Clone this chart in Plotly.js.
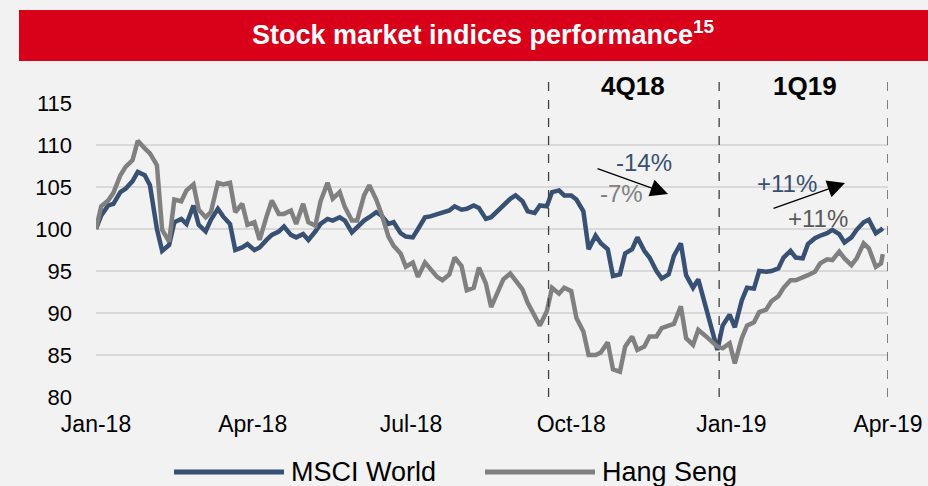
<!DOCTYPE html>
<html>
<head>
<meta charset="utf-8">
<script src="https://cdn.plot.ly/plotly-3.0.1.min.js"></script>
<style>
  html, body { margin: 0; padding: 0; background: #F2F2F2; }
  #chart { width: 928px; height: 486px; }
</style>
</head>
<body>
<div id="chart"></div>
<script>
// ---- Data ----
const dates = [
  '2018-01-01','2018-01-04','2018-01-08','2018-01-11','2018-01-15','2018-01-18','2018-01-22','2018-01-25','2018-01-29',
  '2018-02-01','2018-02-05','2018-02-08','2018-02-12','2018-02-15','2018-02-19','2018-02-22','2018-02-26',
  '2018-03-01','2018-03-05','2018-03-08','2018-03-12','2018-03-15','2018-03-19','2018-03-22','2018-03-26','2018-03-29',
  '2018-04-02','2018-04-05','2018-04-09','2018-04-12','2018-04-16','2018-04-19','2018-04-23','2018-04-26','2018-04-30',
  '2018-05-03','2018-05-07','2018-05-10','2018-05-14','2018-05-17','2018-05-21','2018-05-24','2018-05-28','2018-05-31',
  '2018-06-04','2018-06-07','2018-06-11','2018-06-14','2018-06-18','2018-06-21','2018-06-25','2018-06-28',
  '2018-07-02','2018-07-05','2018-07-09','2018-07-12','2018-07-16','2018-07-19','2018-07-23','2018-07-26','2018-07-30',
  '2018-08-02','2018-08-06','2018-08-09','2018-08-13','2018-08-16','2018-08-20','2018-08-23','2018-08-27','2018-08-30',
  '2018-09-03','2018-09-06','2018-09-10','2018-09-13','2018-09-17','2018-09-20','2018-09-24','2018-09-27',
  '2018-10-01','2018-10-04','2018-10-08','2018-10-11','2018-10-15','2018-10-18','2018-10-22','2018-10-25','2018-10-29',
  '2018-11-01','2018-11-05','2018-11-08','2018-11-12','2018-11-15','2018-11-19','2018-11-22','2018-11-26','2018-11-29',
  '2018-12-03','2018-12-06','2018-12-10','2018-12-13','2018-12-17','2018-12-20','2018-12-24','2018-12-27','2018-12-31',
  '2019-01-03','2019-01-07','2019-01-10','2019-01-14','2019-01-17','2019-01-21','2019-01-24','2019-01-28','2019-01-31',
  '2019-02-04','2019-02-07','2019-02-11','2019-02-14','2019-02-18','2019-02-21','2019-02-25','2019-02-28',
  '2019-03-04','2019-03-07','2019-03-11','2019-03-14','2019-03-18','2019-03-21','2019-03-25','2019-03-28','2019-03-29'
];

const msciWorld = [
  100.0,101.6,102.8,103.0,104.4,104.8,105.7,106.8,106.4,
  105.2,100.0,97.4,98.1,100.8,101.2,100.6,102.8,
  100.5,99.7,101.1,102.4,101.5,100.6,97.5,97.8,98.2,
  97.5,97.8,98.7,99.3,99.7,100.3,99.3,99.0,99.4,
  98.7,99.7,100.6,101.2,101.0,101.4,101.0,99.6,100.2,
  101.0,101.4,102.0,101.6,100.6,100.8,99.5,99.1,
  99.0,100.0,101.4,101.5,101.8,101.9,102.2,102.7,102.3,
  102.4,102.8,102.5,101.2,101.4,102.2,102.7,103.6,104.0,
  103.3,102.1,101.9,102.8,102.7,104.4,104.6,104.0,
  104.0,103.5,102.1,97.6,99.2,98.3,97.6,94.4,94.6,
  97.1,97.6,99.0,97.4,96.6,95.0,94.1,94.6,96.8,
  98.3,94.5,93.0,94.0,91.0,88.3,85.6,88.5,89.8,
  88.3,91.5,93.0,92.9,95.0,94.9,95.0,95.3,96.6,
  97.4,96.6,96.5,98.2,98.9,99.2,99.5,99.9,
  99.4,98.4,99.0,99.9,100.8,101.1,99.5,99.9,100.1
];

const hangSeng = [
  100.0,102.7,103.4,104.3,106.4,107.4,108.2,110.5,109.6,
  109.0,107.6,99.9,98.5,103.5,103.3,104.6,105.3,
  102.3,101.4,102.0,105.5,105.3,105.5,102.0,103.0,100.5,
  100.8,98.7,101.5,103.4,101.8,101.8,102.2,100.6,103.0,
  100.8,100.4,103.3,105.5,103.6,104.4,102.6,101.0,101.0,
  104.0,105.2,103.5,101.8,99.1,98.0,97.1,95.5,
  96.0,94.3,96.0,95.2,94.3,93.9,94.6,96.6,95.6,
  92.7,93.0,95.4,93.5,90.7,92.6,94.0,94.7,93.8,
  92.8,91.2,89.8,88.5,90.2,93.0,92.3,93.0,
  92.6,89.4,87.8,85.0,85.0,85.3,86.5,83.3,83.0,
  86.0,87.2,85.6,86.0,87.2,87.2,88.2,88.5,88.7,
  90.8,87.0,86.2,88.0,87.3,86.8,86.0,85.8,86.4,
  84.0,87.0,88.5,88.9,90.1,90.4,91.4,92.0,93.0,
  93.9,93.9,94.2,94.5,94.9,95.9,96.4,96.3,
  97.3,96.5,95.7,96.5,98.3,97.7,95.5,95.9,97.0
];

const seriesNames = ['MSCI World', 'Hang Seng'];
const tickDates = ['2018-01-01','2018-04-01','2018-07-01','2018-10-01','2019-01-01','2019-04-01'];
const tickLabels = ['Jan-18','Apr-18','Jul-18','Oct-18','Jan-19','Apr-19'];
const yTicks = [80, 85, 90, 95, 100, 105, 110, 115];
const quarterBounds = ['2018-09-18', '2018-12-25', '2019-04-01'];
const quarterLabels = ['4Q18', '1Q19'];

// ---- Styling ----
const BLUE = '#375073';
const GRAY = '#808080';
const DARKGRAY = '#595959';
const RED = '#D9001A';
const BG = '#F2F2F2';
const FONT = 'Liberation Sans, Arial, sans-serif';

// plot area geometry (px) used for paper-coordinate decorations
const L = 96, R = 40, T = 103, B = 89, W = 928, H = 486;
const PW = W - L - R, PH = H - T - B;
const px = x => (x - L) / PW;
const py = y => (H - B - y) / PH;

const traces = [
  { x: dates, y: msciWorld, name: seriesNames[0], type: 'scatter', mode: 'lines',
    line: { color: BLUE, width: 4.5 } },
  { x: dates, y: hangSeng, name: seriesNames[1], type: 'scatter', mode: 'lines',
    line: { color: GRAY, width: 4.5 } }
];

const shapes = [
  // red title bar
  { type: 'rect', xref: 'paper', yref: 'paper', x0: px(19), x1: px(940), y0: py(61), y1: py(10),
    fillcolor: RED, line: { width: 0 }, layer: 'below' }
];
quarterBounds.forEach(d => shapes.push({
  type: 'line', xref: 'x', yref: 'paper', x0: d, x1: d, y0: 0, y1: py(73),
  line: { color: '#404040', width: 1.3, dash: 'dash' }
}));
// manual legend lines
shapes.push({ type: 'line', xref: 'paper', yref: 'paper', x0: px(174), x1: px(284), y0: py(472), y1: py(472),
  line: { color: BLUE, width: 5 } });
shapes.push({ type: 'line', xref: 'paper', yref: 'paper', x0: px(485), x1: px(595), y0: py(472), y1: py(472),
  line: { color: GRAY, width: 5 } });

const ann = (text, x, y, color, size, opts) => Object.assign({
  text: text, xref: 'paper', yref: 'paper', x: px(x), y: py(y), showarrow: false,
  xanchor: 'center', yanchor: 'middle', font: { family: FONT, size: size, color: color }
}, opts || {});

const annotations = [
  ann('<b>' + quarterLabels[0] + '</b>', 633, 86, '#000000', 26),
  ann('<b>' + quarterLabels[1] + '</b>', 805, 86, '#000000', 26),
  ann('-14%', 644, 162, BLUE, 24),
  ann('-7%', 621, 193, GRAY, 24),
  ann('+11%', 787, 183, BLUE, 24),
  ann('+11%', 818, 218, DARKGRAY, 24),
  // arrows
  { text: '', xref: 'paper', yref: 'paper', x: px(668), y: py(194), ax: 596 - 668, ay: 168 - 194,
    showarrow: true, arrowhead: 2, arrowsize: 2.7, arrowwidth: 1.3, arrowcolor: '#000000' },
  { text: '', xref: 'paper', yref: 'paper', x: px(845), y: py(183), ax: 772 - 845, ay: 209 - 183,
    showarrow: true, arrowhead: 2, arrowsize: 2.7, arrowwidth: 1.3, arrowcolor: '#000000' },
  // legend text
  ann(seriesNames[0], 289, 472, '#000000', 27, { xanchor: 'left' }),
  ann(seriesNames[1], 600, 472, '#000000', 27, { xanchor: 'left' })
];

const layout = {
  width: W, height: H,
  margin: { l: L, r: R, t: T, b: B, pad: 0 },
  paper_bgcolor: BG, plot_bgcolor: BG,
  showlegend: false,
  font: { family: FONT, size: 22, color: '#000000' },
  title: {
    text: '<b>Stock market indices performance<sup>15</sup></b>',
    x: 483 / W, xref: 'container', xanchor: 'center',
    y: 1 - 35 / H, yref: 'container', yanchor: 'middle',
    font: { family: FONT, size: 27, color: '#FFFFFF' }
  },
  xaxis: {
    type: 'date', range: ['2018-01-01', '2019-04-01'],
    tickmode: 'array', tickvals: tickDates, ticktext: tickLabels,
    showgrid: false, zeroline: false, showline: false, ticks: '',
    ticklabelstandoff: 11,
    tickfont: { family: FONT, size: 23, color: '#000000' }
  },
  yaxis: {
    range: [80, 115], tickmode: 'array', tickvals: yTicks,
    showgrid: true, gridcolor: '#D9D9D9', gridwidth: 1.5,
    zeroline: false, showline: false, ticks: '',
    ticklabelstandoff: 23,
    tickfont: { family: FONT, size: 22, color: '#000000' }
  },
  shapes: shapes,
  annotations: annotations
};

Plotly.newPlot('chart', traces, layout, { displayModeBar: false, staticPlot: true });
</script>
</body>
</html>
